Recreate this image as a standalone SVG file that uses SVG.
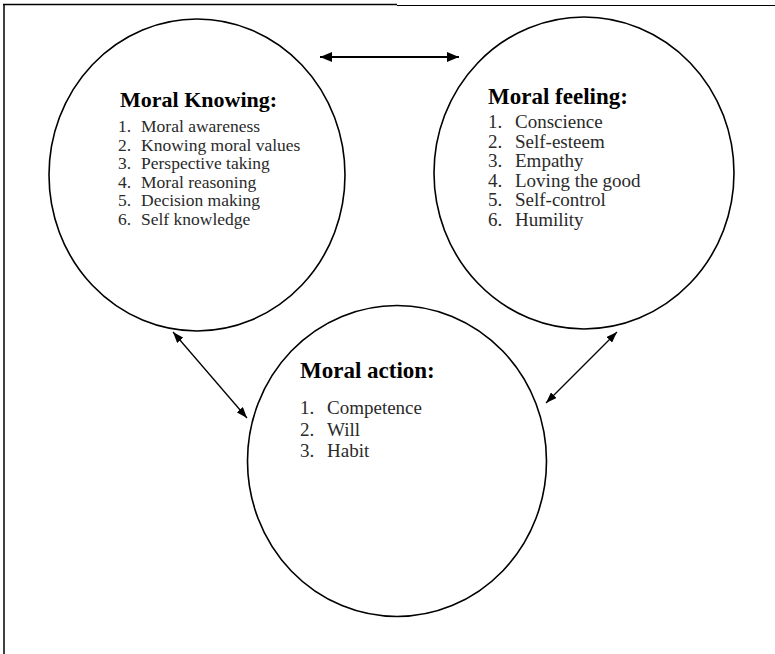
<svg xmlns="http://www.w3.org/2000/svg" width="775" height="654" viewBox="0 0 775 654">
<defs>
<style>
.frame{stroke:#000;stroke-width:1.5;fill:none}
.node{fill:#fff;stroke:#000;stroke-width:1.6}
.title{font-family:"Liberation Serif","Times New Roman",serif;font-weight:bold;font-size:23px;fill:#000}
.item{font-family:"Liberation Serif","Times New Roman",serif;fill:#2a2a2a}
.conn{stroke:#000;fill:none}
</style>
<marker id="ahBig" viewBox="0 0 12 10" refX="12" refY="5" markerWidth="12" markerHeight="10" markerUnits="userSpaceOnUse" orient="auto-start-reverse">
<path d="M0,0 L12,5 L0,10 Z" fill="#000"/>
</marker>
<marker id="ahSmall" viewBox="0 0 11 8" refX="11" refY="4" markerWidth="11" markerHeight="8" markerUnits="userSpaceOnUse" orient="auto-start-reverse">
<path d="M0,0 L11,4 L0,8 Z" fill="#000"/>
</marker>
</defs>
<rect width="775" height="654" fill="#fff"/>
<g id="frame">
<line class="frame" x1="3" y1="4.5" x2="397" y2="4.5"/>
<line class="frame" x1="397" y1="5.5" x2="775" y2="5.5" style="stroke-width:1.2"/>
<line class="frame" x1="4" y1="4" x2="4" y2="654"/>
</g>
<g id="moral-knowing">
<ellipse class="node" cx="197" cy="175" rx="148" ry="156"/>
<text class="title" x="120" y="107" style="font-size:22px">Moral Knowing:</text>
<g class="item" font-size="17.5">
<text x="118" y="132">1.</text><text x="141" y="132">Moral awareness</text>
<text x="118" y="150.5">2.</text><text x="141" y="150.5">Knowing moral values</text>
<text x="118" y="169">3.</text><text x="141" y="169">Perspective taking</text>
<text x="118" y="187.5">4.</text><text x="141" y="187.5">Moral reasoning</text>
<text x="118" y="206">5.</text><text x="141" y="206">Decision making</text>
<text x="118" y="224.5">6.</text><text x="141" y="224.5">Self knowledge</text>
</g>
</g>
<g id="moral-feeling">
<ellipse class="node" cx="584" cy="173" rx="150" ry="156"/>
<text class="title" x="488" y="104">Moral feeling:</text>
<g class="item" font-size="19">
<text x="488" y="128">1.</text><text x="515" y="128">Conscience</text>
<text x="488" y="147.5">2.</text><text x="515" y="147.5">Self-esteem</text>
<text x="488" y="167">3.</text><text x="515" y="167">Empathy</text>
<text x="488" y="186.5">4.</text><text x="515" y="186.5">Loving the good</text>
<text x="488" y="206">5.</text><text x="515" y="206">Self-control</text>
<text x="488" y="225.5">6.</text><text x="515" y="225.5">Humility</text>
</g>
</g>
<g id="moral-action">
<ellipse class="node" cx="397" cy="461" rx="149.5" ry="155.5"/>
<text class="title" x="300" y="378">Moral action:</text>
<g class="item" font-size="19">
<text x="300" y="414">1.</text><text x="327" y="414">Competence</text>
<text x="300" y="435.5">2.</text><text x="327" y="435.5">Will</text>
<text x="300" y="457">3.</text><text x="327" y="457">Habit</text>
</g>
</g>
<g id="connectors">
<line class="conn" x1="320" y1="57" x2="459" y2="57" stroke-width="2.2" marker-start="url(#ahBig)" marker-end="url(#ahBig)"/>
<line class="conn" x1="173" y1="332" x2="247" y2="418" stroke-width="1.3" marker-start="url(#ahSmall)" marker-end="url(#ahSmall)"/>
<line class="conn" x1="617" y1="332" x2="546" y2="403" stroke-width="1.3" marker-start="url(#ahSmall)" marker-end="url(#ahSmall)"/>
</g>
</svg>
